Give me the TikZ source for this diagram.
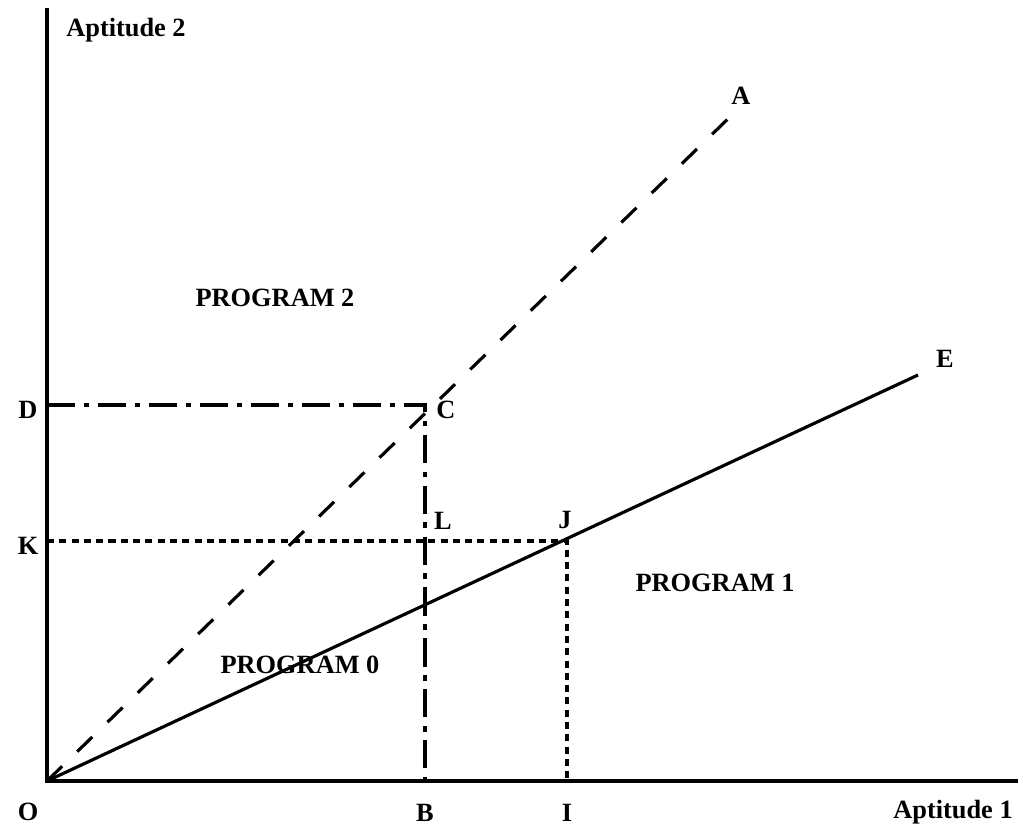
\documentclass[tikz,border=0pt]{standalone}
\usepackage{fontspec}
\setmainfont{Liberation Serif}
\usetikzlibrary{positioning}

\begin{document}
\begin{tikzpicture}[x=0.02cm,y=-0.02cm,font=\bfseries\fontsize{15}{17}\selectfont]
\useasboundingbox (0,0) rectangle (1023,830);
\tikzset{axis/.style={line width=2.1pt},
  solidline/.style={line width=1.8pt},
  longdash/.style={line width=1.8pt,dash pattern=on 12pt off 12pt},
  dashdot/.style={line width=1.8pt,dash pattern=on 16pt off 5pt on 3pt off 5pt},
  shortdash/.style={line width=1.9pt,dash pattern=on 4pt off 3pt},
  lbl/.style={inner sep=1pt}}
% points
\coordinate (o) at (47,781);
\coordinate (ytop) at (47,8);
\coordinate (xend) at (1018,781);
\coordinate (a) at (735,112);
\coordinate (e) at (918,375);
\coordinate (c) at (425,405);
\coordinate (d) at (47,405);
\coordinate (b) at (425,781);
\coordinate (k) at (47,541);
\coordinate (j) at (567,541);
\coordinate (i) at (567,781);
% axes
\draw[axis] (ytop) -- (o) -- (xend);
% boundaries
\draw[longdash] (o) -- (a);
\draw[solidline] (o) -- (e);
\draw[dashdot] (d) -- (c) -- (b);
\draw[shortdash] (k) -- (j) -- (i);
% labels
\node[lbl] (la) at (741,96) {A};
\node[lbl] (le) at (945,359) {E};
\node[lbl] (lc) at (446,410) {C};
\node[lbl] (ld) at (28,410) {D};
\node[lbl] (lk) at (28,546) {K};
\node[lbl] (ll) at (443,521) {L};
\node[lbl] (lj) at (565,520) {J};
\node[lbl] (lo) at (28,812) {O};
\node[lbl] (lb) at (425,813) {B};
\node[lbl] (li) at (567,813) {I};
\node[lbl] (x1) at (953,812) {Aptitude 1};
\node[lbl] (x2) at (126,30) {Aptitude 2};
\node[lbl] (p2) at (275,298) {PROGRAM 2};
\node[lbl] (p1) at (715,583) {PROGRAM 1};
\node[lbl] (p0) at (300,665) {PROGRAM 0};
\end{tikzpicture}
\end{document}
